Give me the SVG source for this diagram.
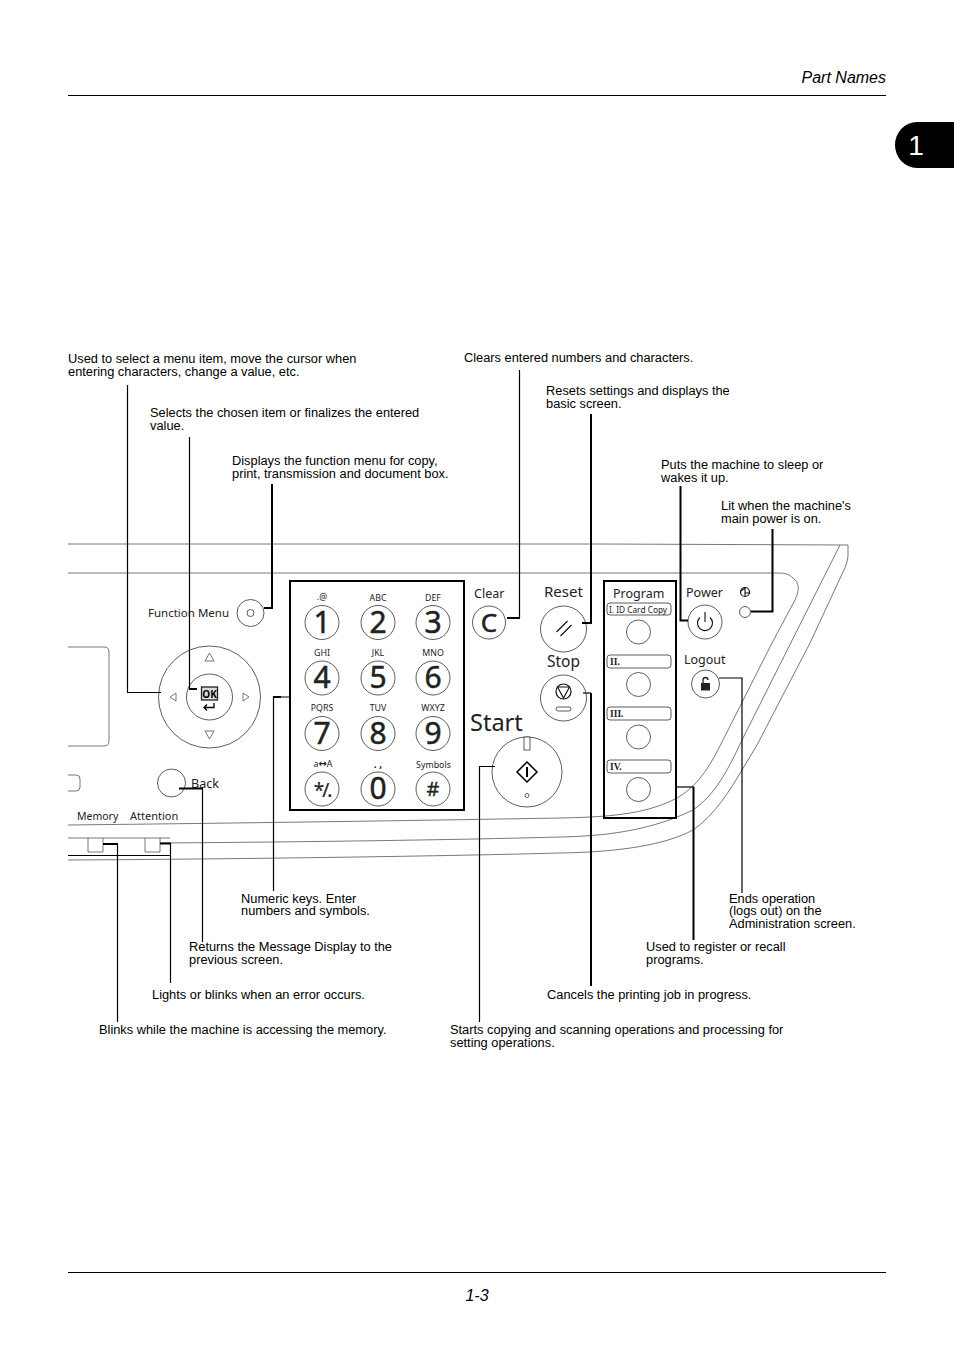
<svg xmlns="http://www.w3.org/2000/svg" width="954" height="1350" viewBox="0 0 954 1350">
<style>
.t{font:12.82px "Liberation Sans",Arial,sans-serif;fill:#000}
.i{font:italic 16px "Liberation Sans",Arial,sans-serif;fill:#000}
.p{font-family:"Noto Sans","Open Sans",sans-serif;fill:#222;font-size:12.5px}
.s{font-family:"Noto Sans","Open Sans",sans-serif;fill:#222;font-size:8.8px;text-anchor:middle}
.n{font-family:"Noto Sans","Open Sans",sans-serif;fill:#222;stroke:#222;stroke-width:.5;font-size:30px;text-anchor:middle}
.r{font-family:"Liberation Serif",serif;font-weight:700;font-size:9.5px;fill:#222}
.o{fill:#fff;stroke:#333;stroke-width:.8}
.g{fill:none;stroke:#555;stroke-width:.8}
.k{fill:none;stroke:#000;stroke-width:1.2}
.b{fill:none;stroke:#000;stroke-width:2}
</style>
<rect width="954" height="1350" fill="#fff"/>
<g id="page">
<line x1="68" y1="95.500" x2="886" y2="95.500" stroke="#000" stroke-width="1"/>
<line x1="68" y1="1272.500" x2="886" y2="1272.500" stroke="#000" stroke-width="1"/>
<text class="i" x="886" y="83" text-anchor="end">Part Names</text>
<text class="i" x="477" y="1301" text-anchor="middle">1-3</text>
<path d="M954 122H917a22 23 0 0 0-22 23a22 23 0 0 0 22 23H954Z" fill="#000"/>
<text x="916" y="155" style="font-family:'Liberation Sans',Arial,sans-serif" font-size="28" fill="#fff" text-anchor="middle">1</text>
</g>
<g id="panel">
<path class="g" d="M68 544H600L848 545V555Q848 562 843 572L810 643L757 745L742 770C730 790 715 815 693 830C665 845 620 852 560 853C450 856 250 859 68 860"/>
<path class="g" d="M160 843C300 842 450 840 560 837C620 836 660 826 693 810C715 795 728 770 742 740L840 545"/>
<path class="g" d="M68 825C250 823 450 820 560 818C620 817 650 812 677 798C700 785 712 762 723 740L772 643L795 600C800 590 799 582 793 578C789 574 785 573 778 573H68"/>
<path class="g" d="M68 647H104Q109 647 109 652V741Q109 746 104 746H68"/>
<path class="g" d="M68 775H76Q80 775 80 779V787Q80 791 76 791H68"/>
<path class="g" d="M68 838H170"/>
<path d="M68 855.500H170" fill="none" stroke="#000" stroke-width="1"/>
<path class="g" d="M88 838V852H103V838M145 838V852H160V838"/>
<text class="p" x="148" y="617" style="font-size:11.500px">Function Menu</text>
<text class="p" x="191" y="788">Back</text>
<text class="p" x="77" y="820" style="font-size:10.500px">Memory</text>
<text class="p" x="130" y="820" style="font-size:11px">Attention</text>
</g>
<g id="function-menu"><circle class="o" cx="250.500" cy="613" r="13.500"/><circle class="o" cx="250.500" cy="613" r="3.500"/></g>
<g id="nav-pad">
<circle class="o" cx="209.500" cy="697" r="51"/><circle class="o" cx="209.500" cy="697" r="23"/>
<path class="g" d="M205 661h9l-4.500-8ZM205 731h9l-4.500 8ZM176 693v8l-6-4ZM243 693v8l6-4Z"/>
<rect x="201.500" y="687" width="16" height="13" fill="#ddd" stroke="#222" stroke-width="1.300"/>
<text x="209.500" y="698" style="font-family:'Noto Sans',sans-serif" font-size="10" font-weight="700" text-anchor="middle" fill="#000">OK</text>
<path d="M214 703v4.500h-10M207 704.500l-3 3l3 3" fill="none" stroke="#000" stroke-width="1.300"/>
</g>
<g id="back"><circle class="o" cx="171.500" cy="783" r="14"/></g>
<g id="numeric-keys">
<rect x="290" y="581" width="174" height="229" fill="none" stroke="#000" stroke-width="2"/>
<circle class="o" cx="322" cy="622.500" r="17"/><circle class="o" cx="378" cy="622.500" r="17"/><circle class="o" cx="433" cy="622.500" r="17"/>
<circle class="o" cx="322" cy="678" r="17"/><circle class="o" cx="378" cy="678" r="17"/><circle class="o" cx="433" cy="678" r="17"/>
<circle class="o" cx="322" cy="733.500" r="17"/><circle class="o" cx="378" cy="733.500" r="17"/><circle class="o" cx="433" cy="733.500" r="17"/>
<circle class="o" cx="322" cy="789" r="17"/><circle class="o" cx="378" cy="789" r="17"/><circle class="o" cx="433" cy="789" r="17"/>
<text class="n" x="322" y="633">1</text><text class="n" x="378" y="633">2</text><text class="n" x="433" y="633">3</text>
<text class="n" x="322" y="688">4</text><text class="n" x="378" y="688">5</text><text class="n" x="433" y="688">6</text>
<text class="n" x="322" y="744">7</text><text class="n" x="378" y="744">8</text><text class="n" x="433" y="744">9</text>
<text class="n" x="378" y="799">0</text>
<text class="n" x="322" y="797" style="font-size:19px;stroke-width:.2;letter-spacing:-2px">*/.</text><text class="n" x="433" y="796" style="font-size:20px;stroke-width:.3">#</text>
<text class="s" x="322" y="600">.@</text><text class="s" x="378" y="601">ABC</text><text class="s" x="433" y="601">DEF</text>
<text class="s" x="322" y="656">GHI</text><text class="s" x="378" y="656">JKL</text><text class="s" x="433" y="656">MNO</text>
<text class="s" x="322" y="711">PQRS</text><text class="s" x="378" y="711">TUV</text><text class="s" x="433" y="711">WXYZ</text>
<text class="s" x="323" y="767">a<tspan style="font-family:'DejaVu Sans',sans-serif;font-weight:700" font-size="10">↔</tspan>A</text><text class="s" x="378" y="768" style="font-size:10px;font-weight:700">. ,</text><text class="s" x="433.500" y="768">Symbols</text>
</g>
<g id="clear"><circle class="o" cx="489" cy="622.500" r="16.500"/><text x="489" y="632" class="n" style="font-size:26px">C</text><text class="p" x="474" y="598">Clear</text></g>
<g id="reset"><circle class="o" cx="563.500" cy="629" r="23"/><path d="M556.500 632l11-11M560.500 636l11-11" stroke="#111" stroke-width="1.200" fill="none"/><text class="p" x="544" y="597" style="font-size:15px">Reset</text></g>
<g id="stop"><circle class="o" cx="563.500" cy="698" r="23"/><circle cx="563.500" cy="691.500" r="7.500" fill="none" stroke="#111" stroke-width="1.200"/><path d="M557.500 687h12l-6 11Z" fill="none" stroke="#111" stroke-width="1.100"/><rect x="556" y="707" width="15" height="4" rx="2" class="o"/><text class="p" x="547" y="667" style="font-size:15.500px">Stop</text></g>
<g id="start"><circle class="o" cx="527" cy="772" r="35"/><rect x="524" y="737" width="6" height="13" class="o"/><path d="M527 762l10 10l-10 10l-10-10Z" fill="none" stroke="#000" stroke-width="1.500"/><line x1="527" y1="767" x2="527" y2="777" stroke="#000" stroke-width="2"/><circle cx="527" cy="795.500" r="2" class="o"/><text class="p" x="470" y="731" style="font-size:23.500px">Start</text></g>
<g id="program">
<rect x="604" y="581" width="72" height="237" fill="none" stroke="#000" stroke-width="2"/>
<text class="p" x="613" y="597.500">Program</text>
<rect x="607" y="603" width="64" height="12" rx="3" class="o"/><text x="609" y="612.500" style="font-family:'Noto Sans',sans-serif" font-size="8.300" fill="#222">I. ID Card Copy</text>
<rect x="607" y="655" width="64" height="13" rx="3" class="o"/><text class="r" x="610" y="665">II.</text>
<rect x="607" y="707" width="64" height="13" rx="3" class="o"/><text class="r" x="610" y="717">III.</text>
<rect x="607" y="760" width="64" height="13" rx="3" class="o"/><text class="r" x="610" y="770">IV.</text>
<circle class="o" cx="638.500" cy="632" r="12"/><circle class="o" cx="638.500" cy="684.500" r="12"/><circle class="o" cx="638.500" cy="737" r="12"/><circle class="o" cx="638.500" cy="789.500" r="12"/>
</g>
<g id="power"><circle class="o" cx="705" cy="622" r="17"/><path d="M700 617.500a7.500 7.500 0 1 0 10 0M705 612v10" fill="none" stroke="#111" stroke-width="1.100"/><text class="p" x="686" y="597">Power</text></g>
<g id="power-lamp"><circle class="o" cx="745" cy="612" r="5.500"/><circle cx="745" cy="592" r="4.500" fill="none" stroke="#111" stroke-width="1.200"/><path d="M741 591l4-3v8M745 593h5" stroke="#111" stroke-width="1.100" fill="none"/></g>
<g id="logout"><circle class="o" cx="705.500" cy="684" r="14"/><rect x="701" y="683" width="9" height="7.500" fill="#222"/><path d="M703 683v-3a2.500 2.500 0 0 1 5 0" fill="none" stroke="#222" stroke-width="1.300"/><text class="p" x="684" y="664">Logout</text></g>
<g id="connectors">
<path class="k" d="M127.500 385V692.500H161"/>
<path class="k" d="M189.500 437V689"/><path class="b" d="M189 689H197"/>
<path class="b" d="M272 484V608H264"/>
<path class="k" d="M519.500 370V618"/><path class="b" d="M520 618H507"/>
<path class="b" d="M591 414V623H582"/>
<path class="b" d="M680.500 486V620.500H688"/>
<path class="b" d="M772.500 529V611.500H751"/>
<path class="k" d="M742 893V678H719"/>
<path class="b" d="M693.500 940V787"/><path class="k" d="M694 787H677"/>
<path class="k" d="M583 693H591"/><path class="b" d="M591 986V693"/>
<path class="k" d="M479.500 1022V766.500H495"/>
<path class="k" d="M273.500 891V697H290"/><path class="b" d="M273 697H281"/>
<path class="k" d="M202.500 942V788.500"/><path class="b" d="M179 788.500H203"/>
<path class="k" d="M170.500 983V843.500"/><path class="b" d="M160 843.500H171"/>
<path class="k" d="M117.500 1022V844"/><path class="b" d="M103 844H118"/>
</g>
<g id="labels">
<text class="t" x="68" y="363">Used to select a menu item, move the cursor when</text><text class="t" x="68" y="376">entering characters, change a value, etc.</text>
<text class="t" x="150" y="417">Selects the chosen item or finalizes the entered</text><text class="t" x="150" y="430">value.</text>
<text class="t" x="232" y="465">Displays the function menu for copy,</text><text class="t" x="232" y="478">print, transmission and document box.</text>
<text class="t" x="464" y="362">Clears entered numbers and characters.</text>
<text class="t" x="546" y="395">Resets settings and displays the</text><text class="t" x="546" y="408">basic screen.</text>
<text class="t" x="661" y="469">Puts the machine to sleep or</text><text class="t" x="661" y="482">wakes it up.</text>
<text class="t" x="721" y="510">Lit when the machine's</text><text class="t" x="721" y="523">main power is on.</text>
<text class="t" x="729" y="903">Ends operation</text><text class="t" x="729" y="915">(logs out) on the</text><text class="t" x="729" y="928">Administration screen.</text>
<text class="t" x="646" y="951">Used to register or recall</text><text class="t" x="646" y="964">programs.</text>
<text class="t" x="547" y="999">Cancels the printing job in progress.</text>
<text class="t" x="450" y="1034">Starts copying and scanning operations and processing for</text><text class="t" x="450" y="1047">setting operations.</text>
<text class="t" x="241" y="903">Numeric keys. Enter</text><text class="t" x="241" y="915">numbers and symbols.</text>
<text class="t" x="189" y="951">Returns the Message Display to the</text><text class="t" x="189" y="964">previous screen.</text>
<text class="t" x="152" y="999">Lights or blinks when an error occurs.</text>
<text class="t" x="99" y="1034">Blinks while the machine is accessing the memory.</text>
</g>
</svg>
